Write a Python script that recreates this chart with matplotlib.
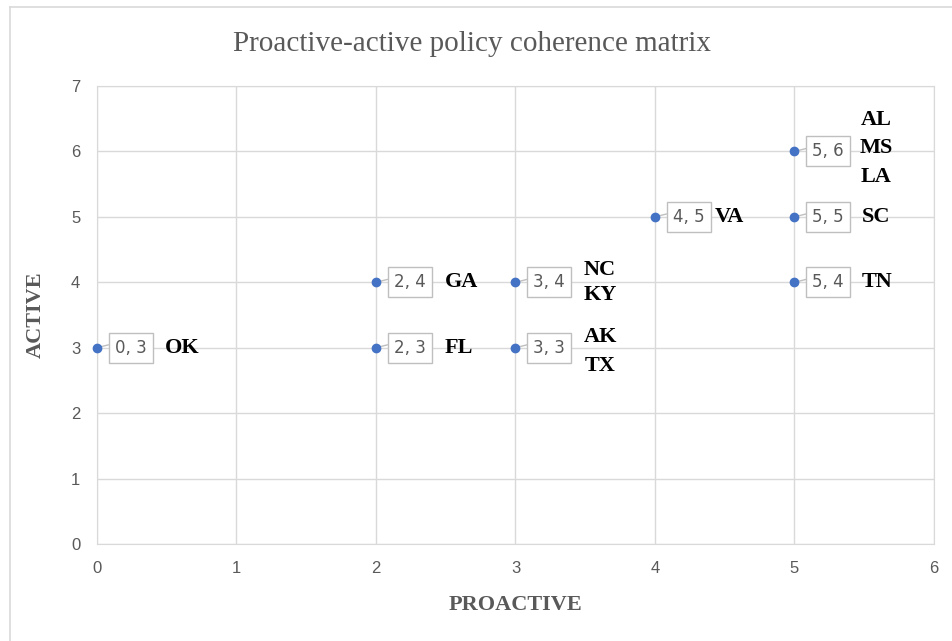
import matplotlib.pyplot as plt
from matplotlib.lines import Line2D

proactive = [0, 2, 2, 3, 3, 4, 5, 5, 5]
active = [3, 3, 4, 3, 4, 5, 4, 5, 6]
states = ['OK', 'FL', 'GA', 'AK\nTX', 'NC\nKY', 'VA', 'TN', 'SC', 'AL\nMS\nLA']
state_dx = [68, 69, 69, 68, 68, 60, 67, 67, 65]
state_dy = [0, 0, 0, 4, 0, 0, 0, 0, -3]
line_sp = [1.2, 1.2, 1.2, 1.6, 1.3, 1.2, 1.2, 1.2, 1.55]

xticks = [0, 1, 2, 3, 4, 5, 6]
yticks = [0, 1, 2, 3, 4, 5, 6, 7]

grey = '#595959'
gridc = '#d9d9d9'
blue = '#4472C4'

fig = plt.figure(figsize=(9.53, 6.41), dpi=100)
ax = fig.add_axes([97/953, 1 - 544/641, (934 - 97)/953, (544 - 86)/641])

ax.plot(proactive, active, 'o', color=blue, markersize=6, zorder=5, clip_on=False)

px_per_pt = 100 / 72
for x, y, s, dx, dy, ls in zip(proactive, active, states, state_dx, state_dy, line_sp):
    # value label box with leader line
    ax.annotate(f'{x}, {y}', xy=(x, y), xytext=(18 / px_per_pt, 0),
                textcoords='offset points', ha='left', va='center',
                fontsize=12, color=grey, family='DejaVu Sans',
                bbox=dict(boxstyle='square,pad=0.36', fc='white', ec='#bfbfbf', lw=1),
                arrowprops=dict(arrowstyle='-', color='#bfbfbf', lw=1,
                                shrinkA=0, shrinkB=0, relpos=(0, 0.75)), zorder=4)
    ax.annotate(s, xy=(x, y), xytext=(dx / px_per_pt, -dy / px_per_pt),
                textcoords='offset points', ha='left', va='center',
                fontsize=16, fontweight='bold', family='Liberation Serif',
                color='black', linespacing=ls, ma='center', zorder=4)

ax.set_xlim(0, 6)
ax.set_ylim(0, 7)
ax.set_xticks(xticks)
ax.set_yticks(yticks)
ax.grid(True, color=gridc, lw=1)
ax.set_axisbelow(True)
for sp in ax.spines.values():
    sp.set_color(gridc)
ax.tick_params(length=0, colors=grey, labelsize=12, pad=12)
for lab in ax.get_xticklabels() + ax.get_yticklabels():
    lab.set_family('Liberation Sans')

ax.set_xlabel('PROACTIVE', family='Liberation Serif', fontweight='bold',
              fontsize=16, color=grey, labelpad=14)
ax.set_ylabel('ACTIVE', family='Liberation Serif', fontweight='bold',
              fontsize=16, color=grey, labelpad=18)
fig.text(472/953, 1 - 44/641, 'Proactive-active policy coherence matrix',
         ha='center', va='center', family='Liberation Serif', fontsize=21, color=grey)

# chart area border
fig.add_artist(Line2D([10/953, 10/953], [0, 1 - 7/641], color=gridc, lw=1.2,
                      transform=fig.transFigure))
fig.add_artist(Line2D([10/953, 1], [1 - 7/641, 1 - 7/641], color=gridc, lw=1.2,
                      transform=fig.transFigure))

fig.savefig('out.png', dpi=100)
